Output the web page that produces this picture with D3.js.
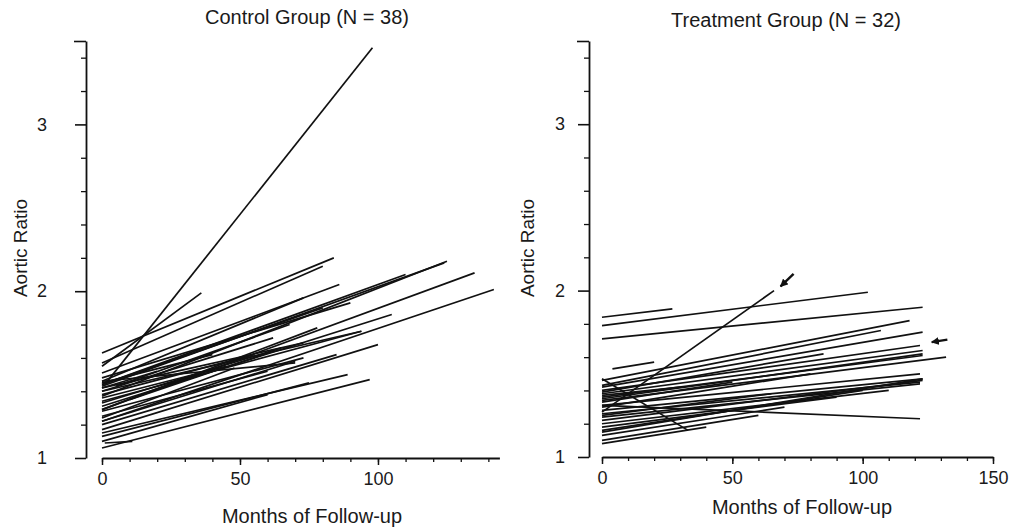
<!DOCTYPE html>
<html>
<head>
<meta charset="utf-8">
<script src="https://cdn.jsdelivr.net/npm/d3@7"></script>
<style>
  body { margin: 0; background: #fff; }
  svg text { font-family: "Liberation Sans", Arial, sans-serif; fill: #1a1a1a; }
  .axis path, .axis line { stroke: #111; }
</style>
</head>
<body>
<div id="chart"></div>
<script>
var width = 1010
var height = 527

// each patient: [start month, start ratio, end month, end ratio]
var controlLines = [
  [1, 1.44, 98, 3.46],
  [0, 1.63, 84, 2.20],
  [0, 1.57, 80, 2.15],
  [0, 1.51, 86, 2.04],
  [0, 1.55, 36, 1.99],
  [0, 1.46, 73, 1.96],
  [0, 1.44, 110, 2.10],
  [0, 1.43, 124, 2.17],
  [0, 1.37, 125, 2.18],
  [0, 1.29, 135, 2.11],
  [0, 1.22, 142, 2.01],
  [0, 1.34, 94, 1.76],
  [0, 1.42, 73, 1.69],
  [0, 1.17, 100, 1.68],
  [0, 1.28, 73, 1.60],
  [0, 1.46, 70, 1.57],
  [0, 1.15, 89, 1.50],
  [0, 1.06, 97, 1.47],
  [1, 1.09, 11, 1.10],
  [0, 1.24, 48, 1.54],
  [0, 1.40, 62, 1.72],
  [0, 1.38, 55, 1.62],
  [0, 1.33, 65, 1.66],
  [0, 1.29, 78, 1.78],
  [0, 1.25, 60, 1.52],
  [0, 1.22, 70, 1.58],
  [0, 1.45, 40, 1.62],
  [0, 1.42, 20, 1.52],
  [0, 1.36, 45, 1.55],
  [0, 1.48, 90, 1.93],
  [0, 1.40, 94, 1.76],
  [0, 1.31, 105, 1.86],
  [5, 1.43, 68, 1.80],
  [0, 1.20, 85, 1.62],
  [0, 1.10, 60, 1.38],
  [0, 1.13, 75, 1.45],
  [10, 1.35, 60, 1.63],
  [0, 1.44, 80, 1.90]
]

var treatmentLines = [
  [0, 1.84, 27, 1.89],
  [0, 1.79, 102, 1.99],
  [0, 1.71, 123, 1.90],
  [0, 1.27, 66, 2.00],
  [4, 1.53, 20, 1.57],
  [0, 1.46, 118, 1.82],
  [0, 1.43, 107, 1.76],
  [0, 1.42, 123, 1.75],
  [0, 1.40, 122, 1.67],
  [0, 1.38, 123, 1.64],
  [0, 1.36, 123, 1.61],
  [0, 1.34, 132, 1.60],
  [0, 1.35, 123, 1.62],
  [0, 1.31, 122, 1.50],
  [0, 1.28, 123, 1.47],
  [0, 1.26, 122, 1.45],
  [0, 1.24, 122, 1.44],
  [0, 1.22, 123, 1.46],
  [0, 1.31, 122, 1.23],
  [0, 1.47, 33, 1.16],
  [0, 1.20, 110, 1.40],
  [0, 1.18, 90, 1.36],
  [0, 1.16, 100, 1.40],
  [0, 1.13, 70, 1.30],
  [0, 1.10, 60, 1.25],
  [0, 1.08, 40, 1.18],
  [0, 1.33, 50, 1.45],
  [0, 1.37, 30, 1.42],
  [0, 1.30, 80, 1.50],
  [0, 1.25, 65, 1.38],
  [0, 1.15, 123, 1.47],
  [0, 1.39, 85, 1.62]
]

// arrows marking two patients: [tail month, tail ratio, head month, head ratio]
var treatmentArrows = [
  [73.5, 2.10, 68.5, 2.025],
  [132.5, 1.705, 126.5, 1.69]
]

var yMajor = [1, 2, 3]
var yMinor = [1.2, 1.4, 1.6, 1.8, 2.2, 2.4, 2.6, 2.8, 3.2, 3.4]
var controlXMajor = [0, 50, 100]
var treatmentXMajor = [0, 50, 100, 150]

var svg = d3.select("#chart").append("svg")
  .attr("width", width)
  .attr("height", height)

svg.append("defs").append("marker")
  .attr("id", "head")
  .attr("viewBox", "0 0 10 10")
  .attr("refX", 9).attr("refY", 5)
  .attr("markerUnits", "userSpaceOnUse")
  .attr("markerWidth", 8).attr("markerHeight", 8)
  .attr("orient", "auto")
  .append("path")
  .attr("d", "M0,0 L10,5 L0,10 z")
  .attr("fill", "#111")

function drawPanel(cfg) {
  var x = d3.scaleLinear().domain([0, cfg.xMax]).range([cfg.x0, cfg.x1])
  var y = d3.scaleLinear().domain([1, 3.5]).range([cfg.yBase, 41])

  var g = svg.append("g")

  // y axis: major, minor and the top cap
  g.append("g").attr("class", "axis")
    .attr("transform", "translate(" + cfg.yAxisX + ",0)")
    .call(d3.axisLeft(y).tickValues(yMajor).tickSize(11).tickSizeOuter(0)
      .tickPadding(cfg.yPad).tickFormat(d3.format("d")))
    .call(function (a) {
      a.select(".domain").attr("stroke-width", 1.8)
      a.selectAll(".tick line").attr("stroke-width", 1.6)
      a.selectAll("text").attr("font-size", 18).attr("fill", "#1a1a1a")
    })
  g.append("g").attr("class", "axis")
    .attr("transform", "translate(" + cfg.yAxisX + ",0)")
    .call(d3.axisLeft(y).tickValues(yMinor.concat([3.5])).tickSize(5).tickSizeOuter(0).tickFormat(""))
    .call(function (a) {
      a.select(".domain").remove()
      a.selectAll(".tick line").attr("stroke-width", 1.3)
      a.selectAll(".tick").filter(function (d) { return d === 3.5 })
        .select("line").attr("x2", -12).attr("stroke-width", 1.6)
    })

  // x axis
  g.append("g").attr("class", "axis")
    .attr("transform", "translate(0," + cfg.yBase + ")")
    .call(d3.axisBottom(x).tickValues(d3.range(0, cfg.xMax + 1, 10)).tickSize(4)
      .tickSizeOuter(0).tickFormat(""))
    .call(function (a) {
      a.select(".domain").attr("stroke-width", 2)
      a.selectAll(".tick line").attr("stroke-width", 1.3)
    })
  g.append("g").attr("class", "axis")
    .attr("transform", "translate(0," + cfg.yBase + ")")
    .call(d3.axisBottom(x).tickValues(cfg.xMajor).tickSize(7).tickPadding(7))
    .call(function (a) {
      a.select(".domain").remove()
      a.selectAll(".tick line").attr("stroke-width", 1.5)
      a.selectAll("text").attr("font-size", 18).attr("fill", "#1a1a1a")
    })

  // patient trajectories
  g.append("g").selectAll("line")
    .data(cfg.lines)
    .enter().append("line")
    .attr("x1", function (d) { return x(d[0]) })
    .attr("y1", function (d) { return y(d[1]) })
    .attr("x2", function (d) { return x(d[2]) })
    .attr("y2", function (d) { return y(d[3]) })
    .attr("stroke", "#111")
    .attr("stroke-width", 1.7)

  if (cfg.arrows) {
    g.append("g").selectAll("line")
      .data(cfg.arrows)
      .enter().append("line")
      .attr("x1", function (d) { return x(d[0]) })
      .attr("y1", function (d) { return y(d[1]) })
      .attr("x2", function (d) { return x(d[2]) })
      .attr("y2", function (d) { return y(d[3]) })
      .attr("stroke", "#111")
      .attr("stroke-width", 2.4)
      .attr("marker-end", "url(#head)")
  }

  g.append("text")
    .attr("x", cfg.titleX).attr("y", cfg.titleY)
    .attr("text-anchor", "middle")
    .attr("font-size", 20)
    .text(cfg.title)

  g.append("text")
    .attr("transform", "translate(" + cfg.yLabelX + ",248) rotate(-90)")
    .attr("text-anchor", "middle")
    .attr("font-size", 19)
    .text("Aortic Ratio")

  g.append("text")
    .attr("x", cfg.xLabelX).attr("y", cfg.xLabelY)
    .attr("text-anchor", "middle")
    .attr("font-size", 20)
    .text("Months of Follow-up")
}

drawPanel({
  lines: controlLines, xMax: 144, x0: 102, x1: 499.4, yBase: 458, yAxisX: 86, yPad: 28,
  xMajor: controlXMajor, title: "Control Group (N = 38)", titleX: 307, titleY: 24,
  yLabelX: 27, xLabelX: 312, xLabelY: 523
})

drawPanel({
  lines: treatmentLines, arrows: treatmentArrows, xMax: 150, x0: 602, x1: 993, yBase: 457,
  yAxisX: 589, yPad: 13, xMajor: treatmentXMajor, title: "Treatment Group (N = 32)",
  titleX: 786, titleY: 27, yLabelX: 534, xLabelX: 802, xLabelY: 514
})
</script>
</body>
</html>
